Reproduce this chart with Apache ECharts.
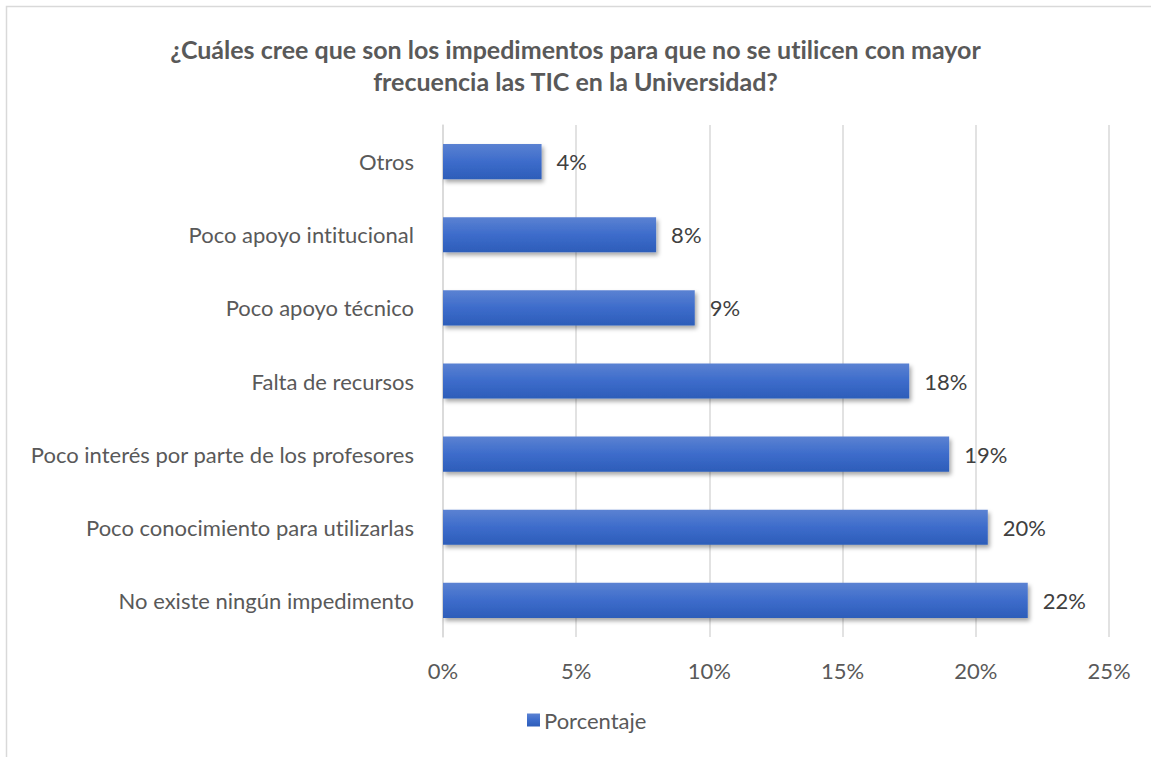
<!DOCTYPE html>
<html><head><meta charset="utf-8">
<script src="https://cdn.jsdelivr.net/npm/echarts@6/dist/echarts.min.js"></script>
<style>html,body{margin:0;padding:0;background:#fff}#c{width:1151px;height:757px}#c text{font-variant-ligatures:none;font-feature-settings:"liga" 0,"clig" 0}</style>
</head><body><div id="c"></div>
<script>
const categories = ["No existe ningún impedimento","Poco conocimiento para utilizarlas","Poco interés por parte de los profesores","Falta de recursos","Poco apoyo técnico","Poco apoyo intitucional","Otros"];
const values = [21.95, 20.45, 19.0, 17.5, 9.45, 8.0, 3.7];
const seriesName = "Porcentaje";
const titleText = "¿Cuáles cree que son los impedimentos para que no se utilicen con mayor\nfrecuencia las TIC en la Universidad?";
const FONT = "Lato";
const chart = echarts.init(document.getElementById('c'), null, {renderer:'svg'});
chart.setOption({
  animation: false,
  backgroundColor: '#fff',
  graphic: [{type:'rect', shape:{x:6.5,y:6.5,width:1200,height:800}, style:{fill:'none', stroke:'#d9d9d9', lineWidth:1.5}, silent:true}],
  title: {text: titleText, left: 'center', top: 28, textStyle:{fontFamily:FONT, fontWeight:'bold', fontSize:25, color:'#595959', lineHeight:32}},
  grid: {left: 443, right: 42, top: 125, bottom: 120},
  legend: {bottom: 21, left: 522, itemWidth: 13, itemHeight: 13, itemGap: 6, icon: 'rect', textStyle:{fontFamily:FONT, fontSize:22, color:'#595959', padding:[0,0,0,-1]}, data:[seriesName]},
  xAxis: {type:'value', min:0, max:25, interval:5,
    axisLabel:{formatter: v => v + '%', fontFamily:FONT, fontSize:22, color:'#595959', margin:22},
    splitLine:{lineStyle:{color:'#d9d9d9', width:1.5}}, axisLine:{show:false}, axisTick:{show:false}},
  yAxis: {type:'category', data: categories,
    axisLabel:{fontFamily:FONT, fontSize:22, color:'#595959', margin:29},
    axisLine:{show:true, lineStyle:{color:'#d9d9d9', width:1.5}}, axisTick:{show:false}},
  series: [{name: seriesName, type:'bar', data: values, barWidth: '48%',
    itemStyle:{color: new echarts.graphic.LinearGradient(0,0,0,1,[{offset:0,color:'#5b82d2'},{offset:0.5,color:'#3d6ccb'},{offset:1,color:'#2d5db9'}]),
      shadowBlur:4, shadowOffsetX:2, shadowOffsetY:3, shadowColor:'rgba(0,0,0,0.35)'},
    label:{show:true, position:'right', distance:15, formatter: p => Math.round(p.value) + '%', fontFamily:FONT, fontSize:22, color:'#404040'}
  }]
});
</script></body></html>
